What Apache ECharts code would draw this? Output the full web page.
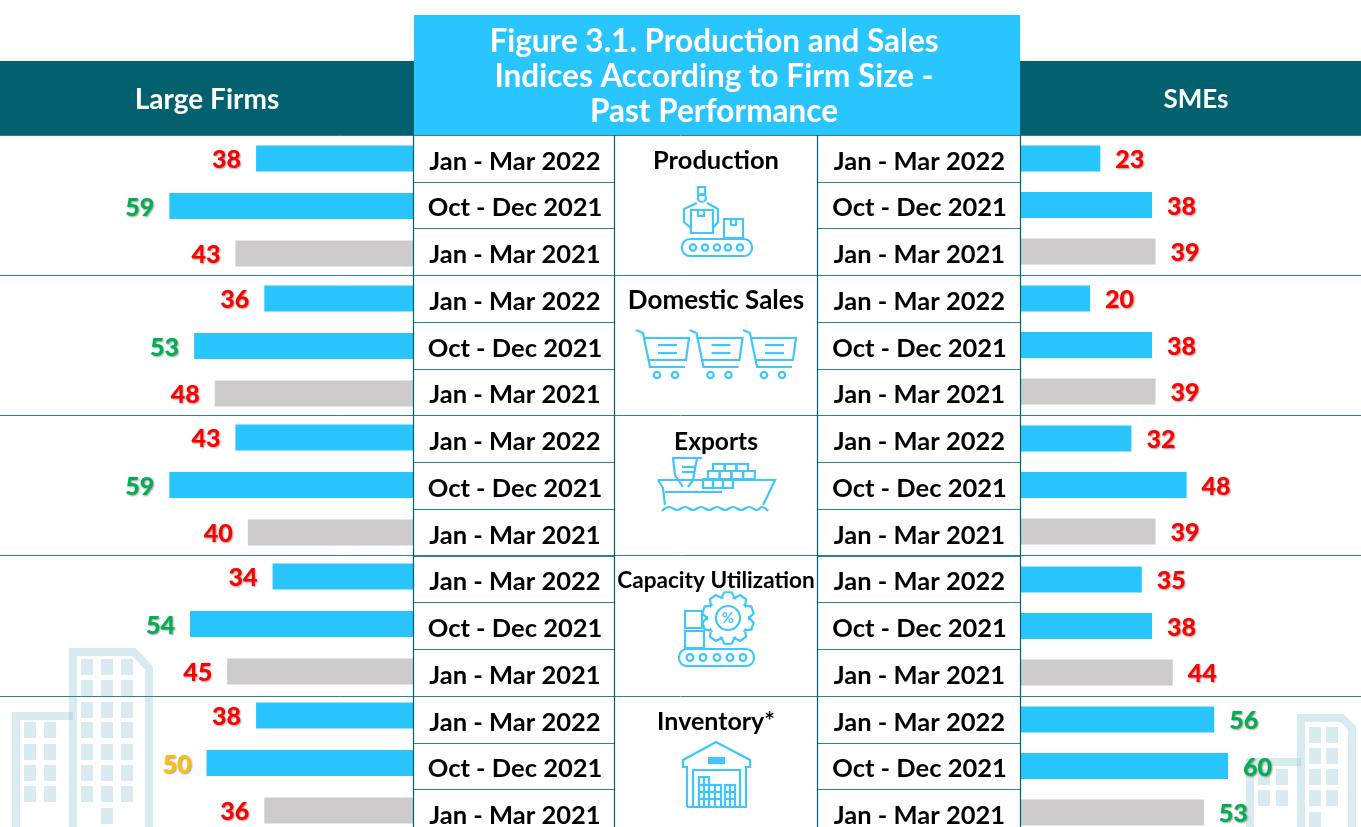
<!DOCTYPE html>
<html><head><meta charset="utf-8">
<style>html,body{margin:0;padding:0;background:#fff;overflow:hidden}#c{width:1361px;height:827px}</style>
<script src="https://cdn.jsdelivr.net/npm/echarts@6/dist/echarts.min.js"></script>
</head><body><div id="c"></div>
<script>
// ---- data ----
const periods = ['Jan - Mar 2022', 'Oct - Dec 2021', 'Jan - Mar 2021'];
const indicators = ['Production', 'Domestic Sales', 'Exports', 'Capacity Utilization', 'Inventory*'];
const largeProduction = [38, 59, 43];
const largeDomestic = [36, 53, 48];
const largeExports = [43, 59, 40];
const largeCapacity = [34, 54, 45];
const largeInventory = [38, 50, 36];
const smeProduction = [23, 38, 39];
const smeDomestic = [20, 38, 39];
const smeExports = [32, 48, 39];
const smeCapacity = [35, 38, 44];
const smeInventory = [56, 60, 53];
const largeFirms = [largeProduction, largeDomestic, largeExports, largeCapacity, largeInventory];
const smes = [smeProduction, smeDomestic, smeExports, smeCapacity, smeInventory];

// ---- style ----
const FONT = 'Lato';
const BLUE = '#29c5ff', GRAY = '#cdcbcc', DARK = '#02606f', LINE = '#2f8291', ICON = '#3fc7fb';
const labelColor = v => v > 50 ? '#00b050' : v === 50 ? '#ffc000' : '#ff0000';

const grids = [], xAxes = [], yAxes = [], series = [];
function addBars(values, name, left, width, top, height, inverse, pos) {
  const i = grids.length;
  grids.push({ left, width, top, height, containLabel: false, outerBoundsMode: 'none' });
  xAxes.push({ gridIndex: i, type: 'value', min: 0, max: 100, inverse, show: false });
  yAxes.push({ gridIndex: i, type: 'category', inverse: true, data: periods, show: false });
  series.push({
    type: 'bar', name, xAxisIndex: i, yAxisIndex: i, barWidth: 26, silent: true,
    data: values.map((v, k) => ({
      value: v,
      itemStyle: { color: k === 2 ? GRAY : BLUE },
      label: { color: labelColor(v) }
    })),
    label: {
      show: true, position: pos, distance: 15, offset: [0, 1.5], fontFamily: FONT, fontWeight: 900, fontSize: 25,
      textShadowColor: 'rgba(0,0,0,0.4)', textShadowBlur: 2, textShadowOffsetX: 1, textShadowOffsetY: 1
    }
  });
}
const largeTops = [134.75, 274.75, 413.75, 552.75, 691.75];
const smeTops = [135.25, 275.25, 415.25, 556.25, 696.25];
largeFirms.forEach((v, g) => addBars(v, 'Large Firms ' + indicators[g], 0, 413, largeTops[g], 142.5, true, 'left'));
smes.forEach((v, g) => addBars(v, 'SMEs ' + indicators[g], 1021, 345, smeTops[g], 139.5, false, 'right'));

// period columns: real category axes, one row per period
const allRows = [].concat(periods, periods, periods, periods, periods);
function addColumn(left, width) {
  const i = grids.length;
  grids.push({ left, width, top: 135, height: 701.25, outerBoundsMode: 'none' });
  xAxes.push({ gridIndex: i, type: 'value', show: false });
  yAxes.push({
    gridIndex: i, type: 'category', inverse: true, data: allRows,
    axisLine: { show: false }, axisTick: { show: false },
    splitLine: { show: true, interval: 0, lineStyle: { color: LINE, width: 1 } },
    axisLabel: {
      inside: true, margin: width / 2 + 1, align: 'center', interval: 0, color: '#000',
      fontFamily: FONT, fontWeight: 'bold', fontSize: 25.5, verticalAlign: 'top', lineHeight: 6
    }
  });
}
addColumn(414, 200);
addColumn(817, 203);

// ---- furniture ----
const G = [];
function band(x, y, w, h, c) { G.push({ type: 'rect', z: 0, silent: true, shape: { x, y, width: w, height: h }, style: { fill: c } }); }
function txt(text, x, y, size, c, z) {
  G.push({ type: 'text', z: z || 6, x, y, silent: true, style: { text, fill: c, font: 'bold ' + size + 'px ' + FONT, align: 'center', verticalAlign: 'middle' } });
}
const ST = { fill: 'none', stroke: ICON, lineWidth: 2.2 };
const pl = pts => G.push({ type: 'polyline', z: 3, silent: true, shape: { points: pts }, style: { ...ST, fill: null } });
const sm = pts => G.push({ type: 'polyline', z: 3, silent: true, shape: { points: pts, smooth: 0.5 }, style: { ...ST, fill: null } });
const rc = (x, y, w, h, r) => G.push({ type: 'rect', z: 3, silent: true, shape: { x, y, width: w, height: h, r: r || 0 }, style: { ...ST } });
const ci = (cx, cy, r) => G.push({ type: 'circle', z: 3, silent: true, shape: { cx, cy, r }, style: { ...ST } });
const fr = (x, y, w, h) => G.push({ type: 'rect', z: 3, silent: true, shape: { x, y, width: w, height: h }, style: { fill: ICON } });

// buildings
const BC = '#80bcd0';
function bPoly(pts) { G.push({ type: 'polyline', z: 1, silent: true, shape: { points: pts }, style: { fill: null, stroke: BC, lineWidth: 8, opacity: 0.3 } }); }
function bWin(xs, ys) { xs.forEach(x => ys.forEach(y => G.push({ type: 'rect', z: 1, silent: true, shape: { x, y, width: 12, height: 16 }, style: { fill: BC, opacity: 0.3 } }))); }
bPoly([[73, 830], [73, 652], [134, 652], [149, 668], [149, 830]]);
bPoly([[16, 830], [16, 716], [73, 716]]);
bWin([81, 101, 121], [659, 680, 702, 722, 744, 765, 786]);
bWin([101], [808]);
bWin([24, 44], [722, 744, 765, 786]);
bPoly([[1301, 830], [1301, 718], [1342, 718], [1352, 728], [1352, 830]]);
bPoly([[1250, 830], [1250, 762], [1301, 762]]);
bWin([1309, 1326], [727, 748, 769, 790]);
bWin([1309], [812]);
bWin([1258, 1276], [769, 790]);

// headers
band(0, 61, 414, 74, DARK);
band(1020, 61, 341, 74, DARK);
band(414, 15, 606, 120, BLUE);
txt('Large Firms', 207, 99.5, 28, '#fff');
txt('SMEs', 1196, 99.5, 26, '#fff');

// rules
[135, 275, 415, 555, 696].forEach(y => G.push({ type: 'line', z: 5, silent: true, shape: { x1: 0, y1: y + .5, x2: 1361, y2: y + .5 }, style: { stroke: LINE, lineWidth: 1 } }));
[413.5, 614.5, 817.5, 1020.5].forEach(x => G.push({ type: 'line', z: 5, silent: true, shape: { x1: x, y1: 135, x2: x, y2: 827 }, style: { stroke: '#00606f', lineWidth: 1.2 } }));

// indicator names
[[161, 25.5], [301, 26], [442, 24.5], [581, 22.6], [722, 25]].forEach((p, i) => txt(indicators[i], 716, p[0], p[1], '#000'));

// icon: production
rc(682, 239, 70, 17, 8);
[693, 705, 717, 728, 740].forEach(x => ci(x, 247.5, 3.2));
rc(724, 219, 19, 19); rc(731, 219, 5, 6);
rc(691, 210, 22, 23); rc(698, 210, 6, 6);
rc(698, 187, 7, 8); ci(702, 198, 4);
pl([[697, 203], [684, 209], [684, 222], [691, 228]]);
pl([[707, 203], [718, 209], [718, 222], [713, 228]]);
// icon: domestic sales
[0, 53.5, 107].forEach(d => {
  pl([[636 + d, 330], [643 + d, 333], [650 + d, 367], [685 + d, 367]]);
  pl([[643 + d, 338], [689 + d, 338], [686 + d, 360], [648 + d, 360]]);
  pl([[658 + d, 345], [677 + d, 345]]);
  pl([[658 + d, 353], [677 + d, 353]]);
  ci(657 + d, 375, 3.2); ci(675 + d, 375, 3.2);
});
// icon: exports
pl([[658, 480], [775, 480], [767, 497], [763, 505]]);
pl([[658, 480], [663, 488], [665, 505]]);
pl([[665, 492], [722, 492]]);
pl([[702, 458], [673, 458], [675, 475], [683, 487]]);
pl([[697, 458], [693, 480], [688, 487]]);
pl([[682, 467], [695, 467]]); pl([[682, 472], [695, 472]]);
[[713, 464, 3, 11.7, 7], [708, 471, 4, 11.7, 8], [703, 479, 3, 10, 9]].forEach(r => {
  for (let k = 0; k < r[2]; k++) rc(r[0] + k * r[3], r[1], r[3], r[4]);
});
sm([[662, 511], [669, 507], [677, 510], [685, 507], [693, 510], [701, 507], [709, 510], [717, 507], [725, 510], [733, 507], [741, 510], [749, 507], [757, 510], [762, 507], [768, 511]]);
// icon: capacity utilization
rc(679, 649, 75, 17, 8);
[690, 703, 717, 730, 743].forEach(x => ci(x, 657.5, 3.4));
rc(685, 631, 19, 17); rc(685, 611, 17, 17);
const gear = [];
for (let t = 0; t < 10; t++) {
  const a = t * Math.PI / 5 - Math.PI / 2, s = 0.14;
  [[21, -0.32], [26, -s], [26, s], [21, 0.32]].forEach(p => gear.push([728 + p[0] * Math.cos(a + p[1]), 618 + p[0] * Math.sin(a + p[1])]));
}
gear.push(gear[0]); pl(gear);
ci(728, 618, 12);
G.push({ type: 'text', z: 3, x: 728, y: 618, silent: true, style: { text: '%', fill: ICON, font: 'bold 15px ' + FONT, align: 'center', verticalAlign: 'middle' } });
// icon: inventory
pl([[687, 807], [687, 767], [683, 767], [683, 760], [716, 742], [750, 760], [750, 767], [746, 767], [746, 807], [687, 807]]);
rc(693, 770, 47, 37);
fr(708, 757, 17, 7);
rc(699, 777, 10, 30); rc(709, 785, 12, 22); rc(725, 785, 10, 22);
[785, 792, 799].forEach(y => pl([[699, y], [721, y]]));
[785, 792, 799].forEach(y => pl([[725, y], [735, y]]));
pl([[704, 777], [704, 807]]); pl([[715, 785], [715, 807]]); pl([[730, 785], [730, 807]]);

const chart = echarts.init(document.getElementById('c'), null, { renderer: 'canvas' });
chart.setOption({
  animation: false,
  backgroundColor: '#fff',
  title: {
    text: 'Figure 3.1. Production and Sales\nIndices According to Firm Size -\nPast Performance',
    left: 714, top: 24.5, textAlign: 'center', padding: 0, z: 7,
    textStyle: { color: '#fff', fontFamily: FONT, fontWeight: 'bold', fontSize: 31.5, lineHeight: 35 }
  },
  grid: grids, xAxis: xAxes, yAxis: yAxes, series,
  graphic: { elements: G }
});
</script></body></html>
